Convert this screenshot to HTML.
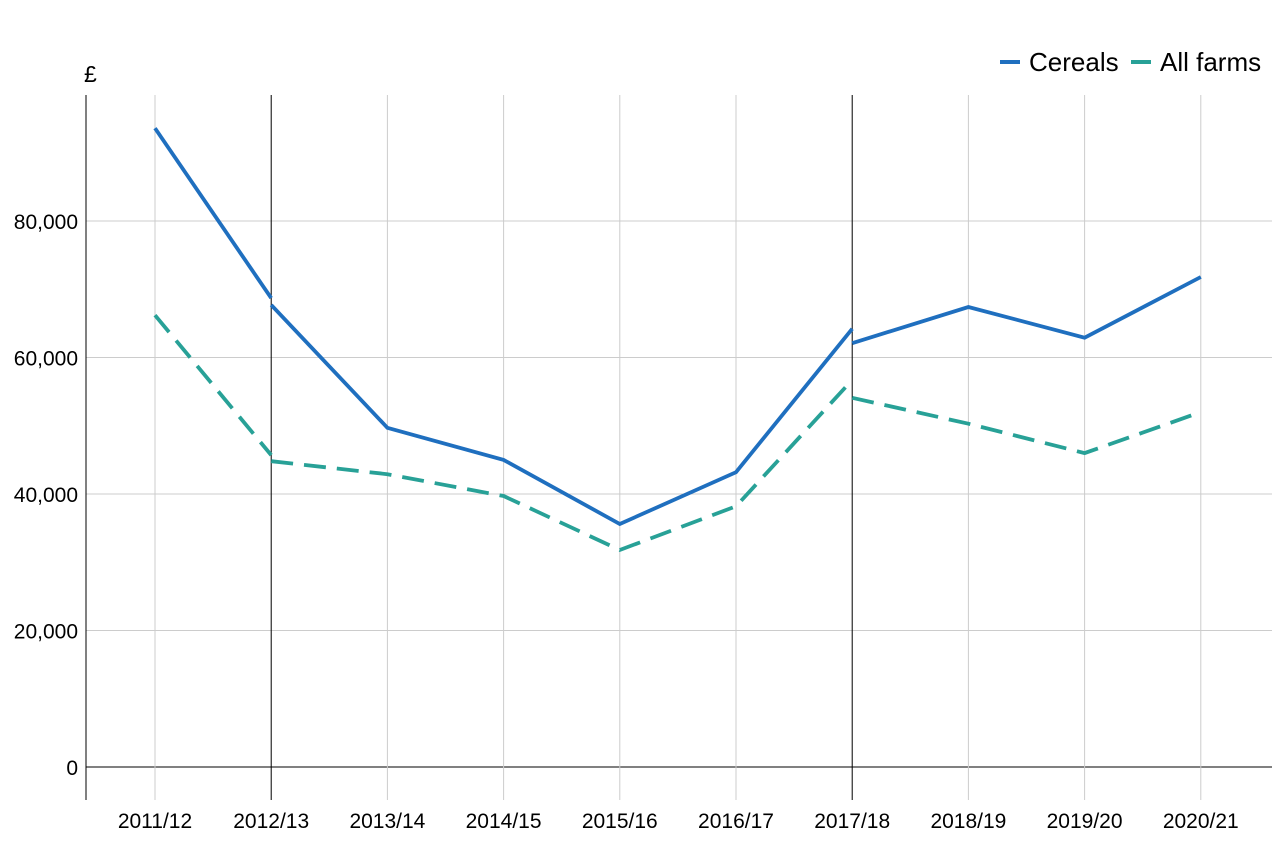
<!DOCTYPE html>
<html><head><meta charset="utf-8">
<style>
html,body{margin:0;padding:0;background:#fff;}
svg{display:block;font-family:"Liberation Sans",Arial,sans-serif;}
</style></head>
<body>
<svg id="chart" width="1280" height="853" viewBox="0 0 1280 853" xmlns="http://www.w3.org/2000/svg"></svg>
<script>
const categories = ["2011/12","2012/13","2013/14","2014/15","2015/16","2016/17","2017/18","2018/19","2019/20","2020/21"];
// values in £; at break years (2012/13, 2017/18) "old" ends a segment, "new" starts the next
const cerealsOld = [93600, 68700, 49700, 45000, 35600, 43200, 64200, 67400, 62900, 71800];
const cerealsNew = [93600, 67700, 49700, 45000, 35600, 43200, 62100, 67400, 62900, 71800];
const allFarmsOld = [66200, 45700, 42900, 39700, 31800, 38200, 56700, 50300, 46000, 52000];
const allFarmsNew = [66200, 44800, 42900, 39700, 31800, 38200, 54100, 50300, 46000, 52000];
const breakIdx = [1, 6];
const yTicks = [0, 20000, 40000, 60000, 80000];

const svg = document.getElementById('chart');
const NS = "http://www.w3.org/2000/svg";
const plotLeft = 86, plotRight = 1272, plotTop = 95, plotBottom = 800;
const x0 = 155, xStep = 116.2;
const y0 = 767, yScalePer = 546 / 80000;
const xs = i => x0 + i * xStep;
const ys = v => y0 - v * yScalePer;

function mk(tag, attrs, parent) {
  const e = document.createElementNS(NS, tag);
  for (const k in attrs) e.setAttribute(k, attrs[k]);
  (parent || svg).appendChild(e);
  return e;
}
function fmt(n) { return String(n).replace(/\B(?=(\d{3})+(?!\d))/g, ','); }

yTicks.forEach(t => {
  const y = ys(t);
  const g = mk('line', {x1: plotLeft, x2: plotRight, y1: y, y2: y, stroke: t === 0 ? '#000' : '#cccccc', 'stroke-width': 1});
  
  
  const tx = mk('text', {x: 78, y: y + 8, 'text-anchor': 'end', 'font-size': 21, fill: '#000'});
  tx.textContent = fmt(t);
  
  
});

categories.forEach((c, i) => {
  const x = xs(i);
  const isBreak = breakIdx.includes(i);
  const g = mk('line', {x1: x, x2: x, y1: plotTop, y2: plotBottom, stroke: isBreak ? '#000' : '#cccccc', 'stroke-width': 1});
  
  
  const tx = mk('text', {x: x, y: 828, 'text-anchor': 'middle', 'font-size': 21, fill: '#000'});
  tx.textContent = c;
  
  
});

const ax = mk('line', {x1: plotLeft, x2: plotLeft, y1: plotTop, y2: plotBottom, stroke: '#000', 'stroke-width': 1});



const yt = mk('text', {x: 84, y: 82, 'font-size': 23, fill: '#000'});
yt.textContent = '£';



function drawSeries(oldArr, newArr, color, dash, name) {
  const bounds = [0].concat(breakIdx).concat([categories.length - 1]);
  for (let s = 0; s < bounds.length - 1; s++) {
    const a = bounds[s], b = bounds[s + 1];
    const pts = [];
    for (let i = a; i <= b; i++) {
      const v = (i === b) ? oldArr[i] : newArr[i];
      pts.push(xs(i).toFixed(1) + ',' + ys(v).toFixed(1));
    }
    const attrs = {points: pts.join(' '), fill: 'none', stroke: color, 'stroke-width': 3.8};
    if (dash) attrs['stroke-dasharray'] = dash;
    const p = mk('polyline', attrs);
    
    
  }
}
drawSeries(allFarmsOld, allFarmsNew, '#28a197', '22 11', 'all-farms-line');
drawSeries(cerealsOld, cerealsNew, '#1f6fbf', null, 'cereals-line');

const lg = mk('g', {});


const l1 = mk('line', {x1: 1000, x2: 1020, y1: 62, y2: 62, stroke: '#1f6fbf', 'stroke-width': 4}, lg);


const t1 = mk('text', {x: 1029, y: 71, 'font-size': 26, fill: '#000'}, lg);
t1.textContent = 'Cereals';


const l2 = mk('line', {x1: 1131, x2: 1151, y1: 62, y2: 62, stroke: '#28a197', 'stroke-width': 4}, lg);


const t2 = mk('text', {x: 1160, y: 71, 'font-size': 26, fill: '#000'}, lg);
t2.textContent = 'All farms';


</script>
</body></html>
